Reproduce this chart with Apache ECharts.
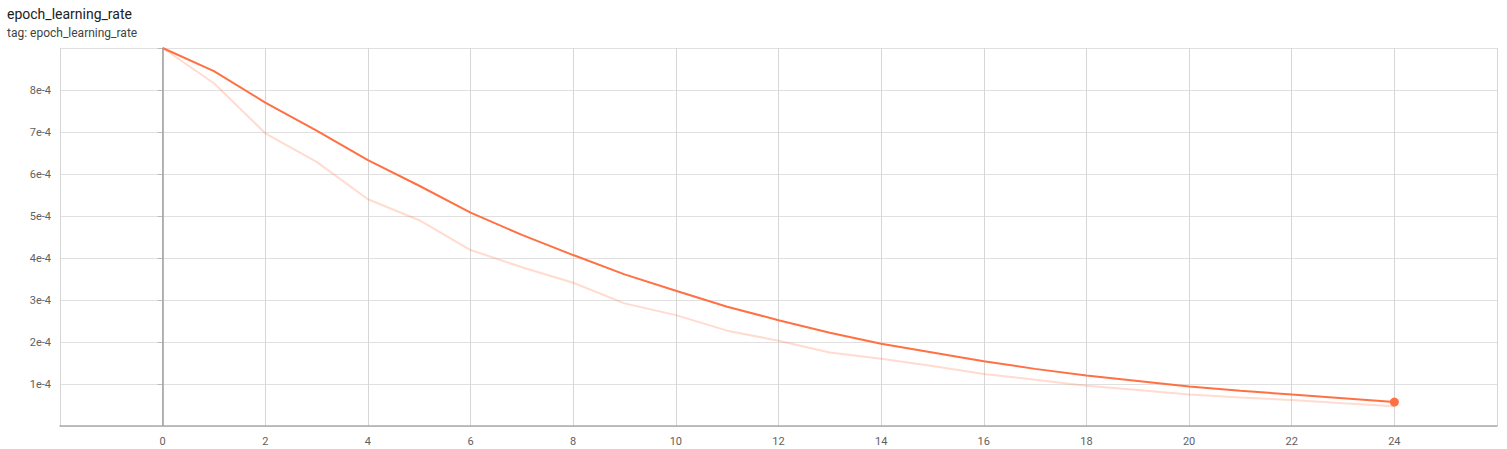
<!DOCTYPE html>
<html>
<head>
<meta charset="utf-8">
<title>epoch_learning_rate</title>
<script src="https://cdn.jsdelivr.net/npm/echarts@6/dist/echarts.min.js"></script>
<style>
  html, body { margin: 0; padding: 0; background: #fff; }
  #chart { width: 1507px; height: 449px; }
</style>
</head>
<body>
<div id="chart"></div>
<script>
// 数据
const epochs = [0, 1, 2, 3, 4, 5, 6, 7, 8, 9, 10, 11, 12, 13, 14, 15, 16, 17, 18, 19, 20, 21, 22, 23, 24];
// 平滑后的曲线
const smoothed = [9.0e-4, 8.45e-4, 7.70e-4, 7.03e-4, 6.33e-4, 5.72e-4, 5.08e-4, 4.55e-4, 4.07e-4, 3.61e-4,
  3.22e-4, 2.84e-4, 2.52e-4, 2.22e-4, 1.96e-4, 1.75e-4, 1.54e-4, 1.36e-4, 1.20e-4, 1.07e-4,
  0.94e-4, 0.84e-4, 0.75e-4, 0.66e-4, 0.57e-4];
// 原始值（淡色）
const raw = [9.0e-4, 8.16e-4, 6.97e-4, 6.29e-4, 5.40e-4, 4.90e-4, 4.19e-4, 3.78e-4, 3.41e-4, 2.92e-4,
  2.64e-4, 2.27e-4, 2.03e-4, 1.75e-4, 1.60e-4, 1.43e-4, 1.24e-4, 1.10e-4, 0.96e-4, 0.86e-4,
  0.75e-4, 0.68e-4, 0.62e-4, 0.54e-4, 0.47e-4];

const lineColor = '#ff7043';
const font = 'Roboto, "Noto Sans", sans-serif';

(function () {
  const chart = echarts.init(document.getElementById('chart'), null, { renderer: 'svg' });
  const last = epochs.length - 1;

  const option = {
    animation: false,
    title: {
      text: 'epoch_learning_rate',
      subtext: 'tag: epoch_learning_rate',
      left: 2,
      top: 2,
      itemGap: 6,
      textStyle: { fontFamily: font, fontSize: 14, fontWeight: 'normal', color: '#212121' },
      subtextStyle: { fontFamily: font, fontSize: 12, color: '#424242' }
    },
    grid: { left: 60, right: 10, top: 48, bottom: 23 },
    xAxis: {
      type: 'value',
      min: -2,
      max: 26,
      interval: 2,
      axisLine: { show: true, onZero: false, lineStyle: { color: '#aaaaaa', width: 1.5 } },
      axisTick: { show: false },
      splitLine: { show: true, lineStyle: { color: '#d6d6d6', width: 1 } },
      axisLabel: {
        fontFamily: font,
        fontSize: 11,
        color: '#616161',
        margin: 10,
        formatter: v => (v < 0 || v > 24 ? '' : String(v))
      }
    },
    yAxis: {
      type: 'value',
      min: 0,
      max: 9e-4,
      interval: 1e-4,
      axisLine: { show: true, lineStyle: { color: '#dddddd' } },
      axisTick: { show: true, length: 5, lineStyle: { color: '#bbbbbb' } },
      splitLine: { show: true, lineStyle: { color: '#e0e0e0', width: 1 } },
      axisLabel: {
        fontFamily: font,
        fontSize: 11,
        color: '#616161',
        margin: 9,
        formatter: v => {
          const n = Math.round(v * 1e4);
          return (n === 0 || n === 9) ? '' : n + 'e-4';
        }
      }
    },
    series: [
      {
        name: 'raw',
        type: 'line',
        data: epochs.map((e, i) => [e, raw[i]]),
        symbol: 'none',
        lineStyle: { color: lineColor, width: 2, opacity: 0.25 },
        silent: true,
        z: 2
      },
      {
        name: 'smoothed',
        type: 'line',
        data: epochs.map((e, i) => [e, smoothed[i]]),
        symbol: 'none',
        lineStyle: { color: lineColor, width: 2 },
        markLine: {
          silent: true,
          symbol: 'none',
          label: { show: false },
          lineStyle: { color: '#9e9e9e', width: 1.5, type: 'solid' },
          data: [{ xAxis: 0 }]
        },
        z: 3
      },
      {
        name: 'last',
        type: 'scatter',
        data: [[epochs[last], smoothed[last]]],
        symbolSize: 9,
        itemStyle: { color: lineColor, opacity: 1 },
        z: 4
      }
    ]
  };
  chart.setOption(option);
})();
</script>
</body>
</html>
